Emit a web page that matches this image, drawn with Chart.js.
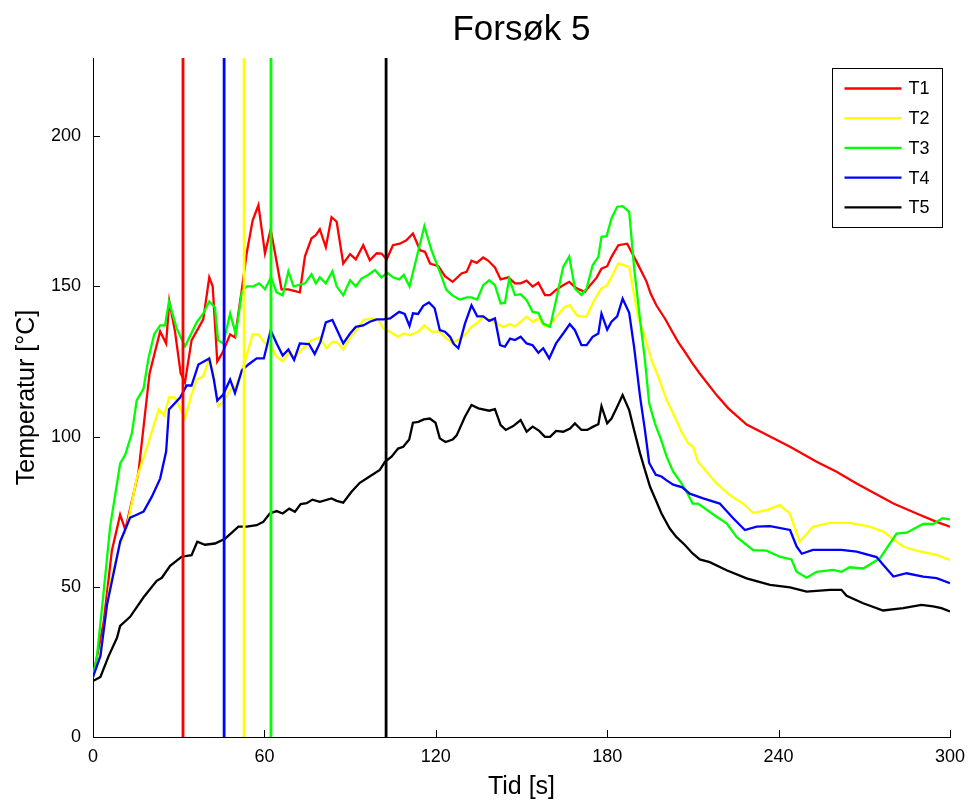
<!DOCTYPE html>
<html>
<head>
<meta charset="utf-8">
<title>Forsøk 5</title>
<script src="https://cdn.jsdelivr.net/npm/chart.js@4/dist/chart.umd.min.js"></script>
<style>
  body { margin: 0; background: #fff; }
  #wrap { width: 970px; height: 800px; position: relative; }
</style>
</head>
<body>
<div id="wrap"><canvas id="chart"></canvas></div>
<script>
// Axis setup
const xTicks = [0, 60, 120, 180, 240, 300];
const yTicks = [0, 50, 100, 150, 200];
const yMax = 226;

const seriesLabels = ['T1', 'T2', 'T3', 'T4', 'T5'];

// T1
const t1Time = [0,3.7,6.6,9.5,11.3,15.9,19.8,23.5,25.6,26.7,28.7,30.7,32.2,34.5,38.6,40.7,41.9,43.5,45.4,48,49.7,52.1,53.8,55.9,57.9,60.2,62.2,64.3,66,68.4,72.4,74.2,76.5,78,79.4,81.5,83.5,85.3,87.6,90,92,94.6,96.9,99.3,101,102.8,105,107.4,109.7,112,114.5,116.2,118,120.9,123.2,125.9,129,130.8,132.5,134.3,136.6,138.4,140.7,142.7,145.4,147.7,149.7,151.8,153.9,155.9,158.2,160,162.1,164.6,166.7,169.3,172.2,174.5,176.3,178,180,181.5,183.9,187,189.1,191.5,193.8,195.2,197.2,200.2,202.5,204.8,207.2,209.9,212.4,218.3,222.4,228.8,237,244,253.3,260.3,267.3,280.2,288.3,295.3,300];
const t1Temp = [20,38,62,74,69,88,121,135,131,145,135,121,118,132,139,153,150,125,128,134,133,149,161,172,177,161,169,158,149,149,148,160,166,167,169,163,173,171.5,157.6,160.7,159,163.7,158.7,161,160.9,159,163.7,164.2,165.3,167.6,162,161.5,157.6,156.7,153.4,151.5,154.3,154.8,158.5,157.8,159.6,158.5,156.3,152.3,153,151,151,151.9,149.9,151.2,147.1,147.1,148.8,150.4,151.5,149.3,148.2,150.9,152.9,155.9,156.7,159.8,163.7,164.2,160.4,155.9,151.5,147.6,143.7,139.3,135.4,131.5,128.2,124.3,121,113.8,109.4,104,100,96.6,91.6,88.3,84.4,77.7,74.4,71.6,70];

// T2
const t2Time = [0,2.6,6.0,9.5,11.9,15.3,19.4,23,24.9,26.6,28.7,32.2,34.5,36.3,38.6,40.7,42.1,43.8,45.6,48,50.3,52.6,54.4,55.9,57.9,60.2,62.3,64.3,66.4,68.4,70.7,74.2,76.5,79.4,81.7,83.8,85.3,87.6,90,92.3,94.6,97.5,99.9,101.6,104,106.8,108.8,110.8,113.8,116,118.5,121.4,123.7,125.9,129.6,132.5,134.3,136.6,139,141.3,143.6,145.9,147.7,149.7,151.8,153.9,155.9,158.2,160,162.3,165.2,167,169.3,171,172.8,175.1,178,180,181.8,183.9,187.7,189.1,190.8,193.2,195.5,197.9,200.8,203.1,206,208.4,210.1,211.8,218.3,222.9,227.6,231.1,235.8,240.4,243.9,247.4,252,257.9,264.9,271.9,276.6,283.6,288.3,295.3,300];
const t2Temp = [20,27,51,64,70,86,98,109,107,113,113,106,114,119,120,126,121.6,110,111.5,115.5,117,123.4,129,134,134,131,130,126.6,125,127.7,126.6,130,132,133,129.4,131.5,131.5,129,133,135.4,138.8,139.3,138.8,136,134.9,133.2,134.3,133.7,134.9,137,134.9,134.9,132.6,131.2,133.2,136.5,137.6,139.9,138.8,137.6,136.5,137.4,136.7,138.2,139.9,138.2,139.3,136.7,137.4,140,143.2,143.7,140.4,139.9,140,144.8,149.3,150.4,153.7,157.6,156.5,148.8,139.9,133.2,125.5,119.9,112.2,107.7,101.6,97.7,96.6,91.6,84.4,80.5,77.7,74.6,75.5,77.2,74.4,65,70,71.3,71.3,70,68.4,63.4,62,60.6,58.9];

// T3
const t3Time = [0,1.4,3.7,6.0,9.5,11.3,13.6,15.3,17.7,19.4,21.4,23.5,25.2,26.6,29.3,32.2,36.3,38.6,40.7,42.7,43.8,45.6,48,50,52.1,53.8,56.1,58.2,60.2,62.3,64.3,66.4,68.4,70.2,74.2,76.5,78,79.4,81.5,83.8,85.3,87.6,90,92,94,96.3,98.7,101,103,105,107.2,108.8,110.8,113.4,116,118.5,121.4,123.7,125.9,128.4,130.8,132.5,134.5,136.6,138.7,140.7,142.7,144.2,145.7,147.7,149.7,151.8,153.9,155.9,157.6,160,162.1,164.6,166.7,168.7,171,172.8,174.9,176.9,178,179.8,181.5,183.5,185.4,187.7,189.4,191.5,193.2,194.7,196.7,198.7,200.8,203.1,206,207.8,209.9,211.8,218.3,221.8,225.3,231.1,235.8,240.4,244.5,246.3,249.8,253.3,259.1,262,264.9,269.6,275.4,281.3,284.8,290.6,294.1,297.4,300];
const t3Temp = [20,27,48,70,91,94,101,112,116,126,134,137,137,145,136,130,138,141,145,143,132,131,141,134,148,150,150,151,149,153,148,147,155,150,151,154,151,153,151,155,150,147,152,150,152.6,153.8,155.4,153,154.5,153,152.3,153.8,150,160,170,162,154.8,148.8,146.9,145.6,146.3,146.3,145.6,150.4,152,150.4,144.3,144.5,152.6,147.1,147.4,145.4,141.5,141.2,137.6,136.5,145.4,156.5,159.9,149.3,147.1,149.3,157,159.8,166.5,166.7,172.6,176.5,176.7,174.8,156.5,138.8,125.5,111.1,104.4,99.4,93.3,88.3,84.4,81.6,77.7,77.7,73.3,71.1,66.6,62.2,62,60,59.1,55,53,55,55.6,55,56.5,56.1,59.4,67.7,68,70.9,70.9,72.8,72.4];

// T4
const t4Time = [0,2.6,4.9,9.5,13,15.3,17.7,20.6,23.5,25.6,26.6,30.5,32.8,34.5,36.9,40.7,42.3,43.5,45.6,48,49.7,52.1,54.4,57.3,59.8,62.2,64.3,66.4,68.4,70.4,72.4,75.6,77.6,79.6,81.5,83.8,87.6,90,92,94.6,96.9,99.3,101.6,104,107.2,109.1,110.8,112,113.8,115.6,117.6,119.6,121.4,123.2,125,126.3,127.9,130.2,132.5,134.5,136.6,138.7,140.7,142.5,144.2,146,147.7,149.7,151.8,153.9,155.9,157.6,159.7,162.1,164.6,166.9,168.7,171,172.8,174.9,176.9,178,180,181.5,183.5,185.4,187.7,189.4,191.5,193.2,194.7,197,199,200.8,203.1,206.3,208.9,213.6,219.4,224.1,228.2,232.3,237,244,246.3,248.1,252,262,267.3,274.3,276.6,280.2,284.8,290.6,295.3,300];
const t4Temp = [20,27,44,65,73,74,75,80,86,95,109,113,117,117,124,126,119,112,114,119,114.5,122,124,126,126,135.4,131,127,129,125.5,131,130.8,127.5,131.5,138,138.8,131,134.3,136.5,137,138.2,139,139,139.3,141.5,140.8,136.8,141,140.8,143.5,144.6,142.7,135.4,134.9,133.2,130.8,129.4,137.6,143.7,140,140,138.5,139.3,130.4,129.9,132.6,132.1,133.2,131,130.4,127.9,129.4,126,131,134.3,137.4,135.4,130.4,130.4,133.2,134.3,140.9,135.6,138.2,140,145.9,141.2,129.9,113.3,102.2,91.2,87.3,86.7,85.4,84,83.1,81,79.4,77.7,72.8,68.9,70,70.2,68.9,63.4,61,62.3,62.3,61.7,59.9,57.3,53.4,54.5,53.4,52.9,51.2];

// T5
const t5Time = [0,2.6,5.5,8.4,9.5,13,17.7,22.3,24.1,27,31,34.5,36.5,39.2,42.7,46.2,48.6,50.9,53.8,57.3,59.6,61.9,64.3,66.4,68.7,70.7,72.7,74.8,76.8,79.4,83.5,85.3,87.6,90.5,93.4,96.3,100.4,102.2,104.5,106.8,108.6,110.7,112,113.9,115.8,117.9,119.9,121.4,123.4,125.9,127.3,130.2,132.5,134.9,138.7,140.7,142.7,144.5,147.1,149.7,151.8,153.9,156.2,158.2,160,162.1,164.6,167,168.7,171,173,175.1,176.9,178,180,181.5,183.5,185.4,187.7,189.4,191.5,193.2,195,197,199,201.9,204.2,207.2,209.9,212.4,215.9,221.8,228.8,237,244,249.8,258,262,263.8,269.6,276.6,283.6,290,294.1,297,300];
const t5Temp = [18.6,20,27,33,37,40,46.5,52,53,57,60,60.5,65,64,64.4,66,68,70,70,70.5,71.6,74.4,75.2,74.4,76,75,77.5,77.8,79,78.3,79.4,78.6,78,81.6,84.6,86.4,88.9,91.6,93.3,96,96.6,99,104.6,104.9,105.7,106,104.6,99.4,98.2,99,100.4,106.6,110.5,109.4,108.6,109.1,103.8,102.2,103.5,105.5,101.6,103.3,101.9,99.9,99.9,101.9,101.6,102.7,104.4,102.2,102.2,103.3,104.1,110.1,104.4,106,109.9,113.8,108.8,102.2,94.4,88.9,83.3,78.9,74.4,69.4,66.6,63.9,61.1,59.1,58.2,55.5,52.8,50.6,49.8,48.4,49,49,47,44.5,42.1,42.9,44,43.5,42.9,41.8];

// Vertical marker lines (time in s)
const markerTimes = [31.5, 45.9, 52.9, 62.3, 102.6];

const seriesColors = ['#ff0000', '#ffff00', '#00ff00', '#0000ff', '#000000'];
const markerColors = ['#ff0000', '#0000ff', '#ffff00', '#00ff00', '#000000'];

const FONT = "'Liberation Sans', Arial, Helvetica, sans-serif";

function toPoints(times, temps) {
    const n = Math.min(times.length, temps.length);
    const pts = [];
    for (let i = 0; i < n; i++) pts.push({ x: times[i], y: temps[i] });
    return pts;
}

const seriesData = [
    toPoints(t1Time, t1Temp),
    toPoints(t2Time, t2Temp),
    toPoints(t3Time, t3Temp),
    toPoints(t4Time, t4Temp),
    toPoints(t5Time, t5Temp)
];

const datasets = [];
seriesData.forEach((pts, i) => {
    datasets.push({
        label: seriesLabels[i],
        data: pts,
        borderColor: seriesColors[i],
        backgroundColor: seriesColors[i],
        borderWidth: 2.3,
        pointRadius: 0,
        tension: 0,
        order: 5 - i
    });
});
markerTimes.forEach((t, i) => {
    datasets.push({
        label: 'marker' + i,
        data: [{ x: t, y: 0 }, { x: t, y: yMax }],
        borderColor: markerColors[i],
        borderWidth: 2.8,
        pointRadius: 0,
        order: 0
    });
});

// inward ticks, legend box and title
const decorations = {
    id: 'decorations',
    afterDatasetsDraw(chart) {
        const { ctx, chartArea: a, scales } = chart;
        const x = scales.x, y = scales.y;
        ctx.save();

        // inward tick marks
        ctx.strokeStyle = '#000';
        ctx.lineWidth = 1;
        ctx.beginPath();
        xTicks.forEach(v => {
            const px = Math.round(x.getPixelForValue(v)) + 0.5;
            ctx.moveTo(px, a.bottom);
            ctx.lineTo(px, a.bottom - 7);
        });
        yTicks.forEach(v => {
            const py = Math.round(y.getPixelForValue(v)) + 0.5;
            ctx.moveTo(a.left, py);
            ctx.lineTo(a.left + 7, py);
        });
        ctx.stroke();

        // legend
        const boxW = 110, boxH = 159;
        const bx = Math.round(a.right - 8 - boxW) + 0.5;
        const by = Math.round(a.top + 10) + 0.5;
        ctx.fillStyle = '#fff';
        ctx.fillRect(bx, by, boxW, boxH);
        ctx.strokeStyle = '#000';
        ctx.lineWidth = 1;
        ctx.strokeRect(bx, by, boxW, boxH);
        ctx.font = '18px ' + FONT;
        ctx.textBaseline = 'middle';
        ctx.textAlign = 'left';
        seriesLabels.forEach((lab, i) => {
            const ry = by + 20 + i * 29.7;
            ctx.strokeStyle = seriesColors[i];
            ctx.lineWidth = 2.3;
            ctx.beginPath();
            ctx.moveTo(bx + 12, ry);
            ctx.lineTo(bx + 69, ry);
            ctx.stroke();
            ctx.fillStyle = '#000';
            ctx.fillText(lab, bx + 76, ry + 1);
        });

        // title
        ctx.fillStyle = '#000';
        ctx.font = '35px ' + FONT;
        ctx.textAlign = 'center';
        ctx.textBaseline = 'middle';
        ctx.fillText('Forsøk 5', (a.left + a.right) / 2, 30);

        ctx.restore();
    }
};

const ctx = document.getElementById('chart').getContext('2d');
const chart = new Chart(ctx, {
    type: 'line',
    data: { datasets: datasets },
    options: {
        responsive: true,
        maintainAspectRatio: false,
        animation: false,
        layout: { padding: { top: 58, right: 20, left: 0, bottom: 0 } },
        plugins: {
            legend: { display: false },
            tooltip: { enabled: false },
            title: { display: false }
        },
        scales: {
            x: {
                type: 'linear',
                min: 0,
                max: 300,
                afterBuildTicks: s => { s.ticks = xTicks.map(v => ({ value: v })); },
                afterFit: s => { s.height = 63; s.paddingLeft = 0; s.paddingRight = 0; },
                grid: { display: false, drawTicks: false },
                border: { display: true, color: '#000', width: 1 },
                ticks: {
                    color: '#000',
                    padding: 9,
                    maxRotation: 0,
                    font: { family: FONT, size: 18 }
                },
                title: {
                    display: true,
                    text: 'Tid [s]',
                    color: '#000',
                    font: { family: FONT, size: 25, lineHeight: 1.05 },
                    padding: { top: 0, bottom: 0 }
                }
            },
            y: {
                type: 'linear',
                min: 0,
                max: yMax,
                afterBuildTicks: s => { s.ticks = yTicks.map(v => ({ value: v })); },
                afterFit: s => { s.width = 93; },
                grid: { display: false, drawTicks: false },
                border: { display: true, color: '#000', width: 1 },
                ticks: {
                    color: '#000',
                    padding: 12,
                    font: { family: FONT, size: 18 }
                },
                title: {
                    display: true,
                    text: 'Temperatur [°C]',
                    color: '#000',
                    font: { family: FONT, size: 25, lineHeight: 1.2 },
                    padding: { top: 12, bottom: 0 }
                }
            }
        }
    },
    plugins: [decorations]
});
</script>
</body>
</html>
